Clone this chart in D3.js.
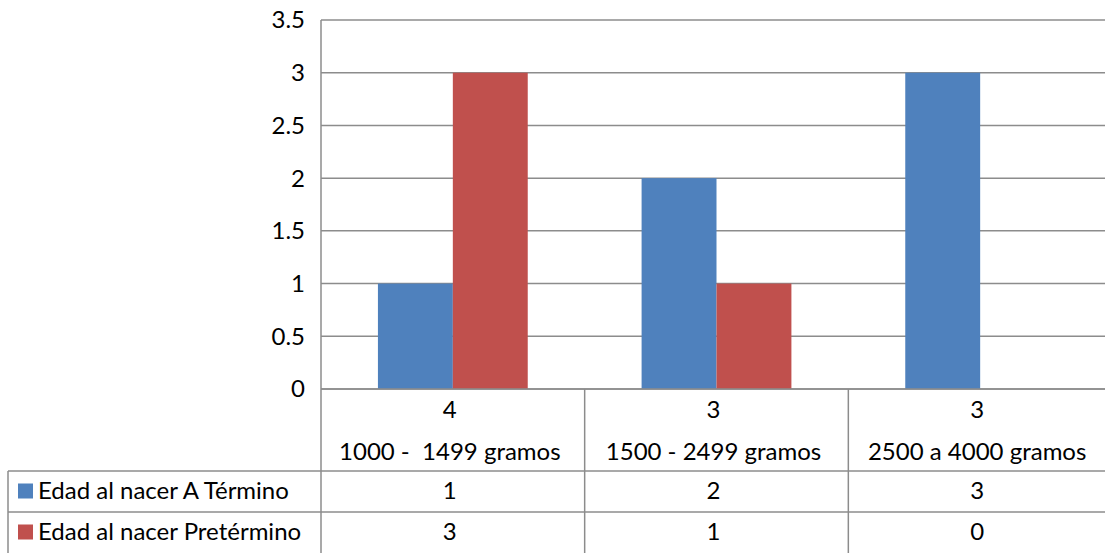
<!DOCTYPE html>
<html>
<head>
<meta charset="utf-8">
<script src="https://cdn.jsdelivr.net/npm/d3@7"></script>
<style>
  html, body { margin: 0; padding: 0; background: #fff; }
  svg { display: block; font-family: Lato, "Open Sans", sans-serif; }
  text { white-space: pre; }
</style>
</head>
<body>
<svg id="chart" width="1105" height="553"></svg>
<script>
// Birth-weight groups (two-level category labels) and the two series
const categoryTop = ["4", "3", "3"];
const categories = ["1000 -  1499 gramos", "1500 - 2499 gramos", "2500 a 4000 gramos"];
const seriesNames = ["Edad al nacer A Término", "Edad al nacer Pretérmino"];
const aTermino = [1, 2, 3];
const pretermino = [3, 1, 0];
const yTicks = [0, 0.5, 1, 1.5, 2, 2.5, 3, 3.5];

const seriesValues = [aTermino, pretermino];
const colors = ["#4F81BD", "#C0504D"];
const gridColor = "#8c8c8c";
const fontSize = 24;

const svg = d3.select("#chart");

const plot = { left: 321, right: 1112, top: 20, bottom: 389 };
const tableLeft = 8;
const rowBottoms = [471, 512, 553];

const x = d3.scaleBand().domain(categories).range([plot.left, plot.right]);
const inner = d3.scaleBand().domain(d3.range(seriesNames.length))
  .range([0, x.bandwidth()]).paddingOuter(0.76).paddingInner(0);
const y = d3.scaleLinear().domain([0, 3.5]).range([plot.bottom, plot.top]);

// horizontal gridlines
svg.append("g").selectAll("line").data(yTicks).join("line")
  .attr("x1", plot.left).attr("x2", 1105)
  .attr("y1", d => y(d)).attr("y2", d => y(d))
  .attr("stroke", gridColor).attr("stroke-width", 1.5);

// y axis labels
svg.append("g").selectAll("text").data(yTicks).join("text")
  .attr("x", 305).attr("y", d => y(d)).attr("dy", "0.35em")
  .attr("text-anchor", "end").attr("font-size", fontSize).attr("fill", "#000")
  .text(d => d);

// bars
seriesValues.forEach((vals, s) => {
  svg.append("g").selectAll("rect").data(vals).join("rect")
    .attr("x", (d, i) => x(categories[i]) + inner(s))
    .attr("width", inner.bandwidth())
    .attr("y", d => y(d))
    .attr("height", d => y(0) - y(d))
    .attr("fill", colors[s]);
});

// value axis line
svg.append("line")
  .attr("x1", plot.left).attr("x2", plot.left)
  .attr("y1", plot.top).attr("y2", plot.bottom)
  .attr("stroke", gridColor).attr("stroke-width", 1.5);

// data table grid
const tbl = svg.append("g").attr("stroke", gridColor).attr("stroke-width", 1.5);
tbl.append("line").attr("x1", plot.left).attr("x2", 1105).attr("y1", plot.bottom).attr("y2", plot.bottom);
rowBottoms.slice(0, 2).forEach(yy => {
  tbl.append("line").attr("x1", tableLeft).attr("x2", 1105).attr("y1", yy).attr("y2", yy);
});
tbl.append("line").attr("x1", tableLeft).attr("x2", tableLeft).attr("y1", rowBottoms[0]).attr("y2", 553);
categories.forEach(c => {
  tbl.append("line").attr("x1", x(c)).attr("x2", x(c)).attr("y1", plot.bottom).attr("y2", 553);
});

// category labels (two lines per group)
const catText = svg.append("g").attr("font-size", fontSize).attr("text-anchor", "middle");
categories.forEach((c, i) => {
  const cx = x(c) + x.bandwidth() / 2 - 3;
  catText.append("text").attr("x", cx).attr("y", 410).attr("dy", "0.35em").text(categoryTop[i]);
  catText.append("text").attr("x", cx).attr("y", 452).attr("dy", "0.35em").text(c);
});

// series rows with legend keys and values
seriesNames.forEach((name, s) => {
  const rowMid = (rowBottoms[s] + rowBottoms[s + 1]) / 2 - 1;
  svg.append("rect").attr("x", 18).attr("y", rowMid - 7).attr("width", 15).attr("height", 15)
    .attr("fill", colors[s]);
  svg.append("text").attr("x", 38).attr("y", rowMid).attr("dy", "0.35em")
    .attr("font-size", fontSize).text(name);
  svg.append("g").selectAll("text").data(seriesValues[s]).join("text")
    .attr("x", (d, i) => x(categories[i]) + x.bandwidth() / 2 - 3)
    .attr("y", rowMid).attr("dy", "0.35em")
    .attr("text-anchor", "middle").attr("font-size", fontSize)
    .text(d => d);
});
</script>
</body>
</html>
